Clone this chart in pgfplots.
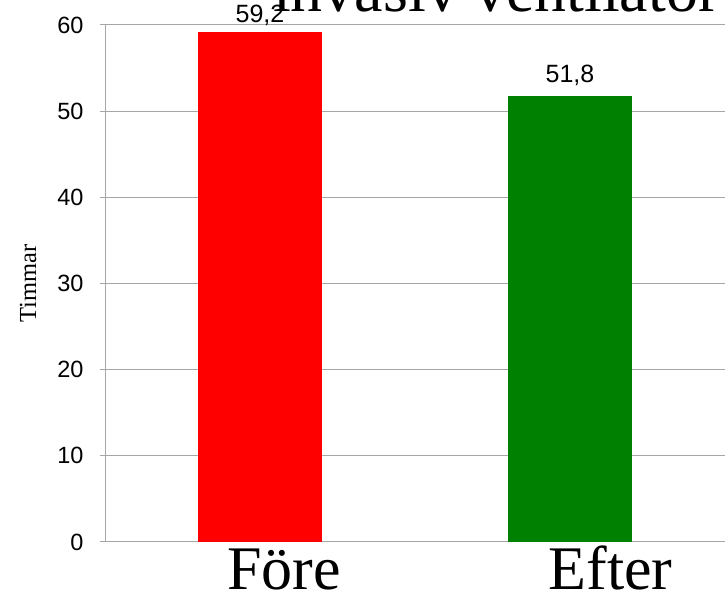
\documentclass[border=0pt]{standalone}
\usepackage{pgfplots}
\pgfplotsset{compat=1.18}
\usepackage{fontspec}
\setmainfont{Liberation Serif}
\newfontfamily\arial{Liberation Sans}
\definecolor{gridgray}{RGB}{166,166,166}
\definecolor{barred}{RGB}{255,0,0}
\definecolor{bargreen}{RGB}{0,128,0}
\begin{document}
\begin{tikzpicture}[x=1bp,y=1bp]
\useasboundingbox (0,0) rectangle (725,593);
\clip (0,0) rectangle (725,593);
\begin{axis}[
  at={(105bp,51bp)}, anchor=south west,
  scale only axis, width=620bp, height=517bp,
  xmin=-0.5, xmax=1.5, ymin=0, ymax=60,
  ybar, bar width=124bp,
  axis x line*=bottom, axis y line*=left,
  axis line style={gridgray, line width=1bp, -},
  ytick={0,10,...,60},
  xtick={0.077,1.131}, xticklabels={Före,Efter},
  ymajorgrids, grid style={gridgray, line width=1bp},
  tick align=outside, major tick length=5bp,
  xtick style={draw=none}, ytick style={gridgray, line width=1bp},
  yticklabel style={font=\arial\fontsize{23.5bp}{26bp}\selectfont,
    /pgf/number format/assume math mode=true, anchor=east, xshift=-13bp},
  xticklabel style={font=\fontsize{62bp}{68bp}\selectfont, anchor=base, yshift=-43bp},
  ylabel={Timmar},
  ylabel style={font=\fontsize{24.5bp}{27bp}\selectfont,
    at={(axis description cs:-0.124,0.5)}, anchor=center},
  nodes near coords={\pgfmathprintnumber[use comma,fixed,precision=1,fixed zerofill,assume math mode=true]{\pgfplotspointmeta}},
  every node near coord/.append style={font=\arial\fontsize{25bp}{28bp}\selectfont, black, anchor=base},
  clip=false,
]
\addplot[fill=barred, draw=none, bar shift=0pt,
  every node near coord/.append style={yshift=9bp}] coordinates {(0,59.2)};
\addplot[fill=bargreen, draw=none, bar shift=0pt,
  every node near coord/.append style={yshift=13bp}] coordinates {(1,51.8)};
\end{axis}
\node[anchor=base west, inner sep=0pt, font=\fontsize{64bp}{70bp}\selectfont] at (273,581) {invasiv ventilator};
\end{tikzpicture}
\end{document}
